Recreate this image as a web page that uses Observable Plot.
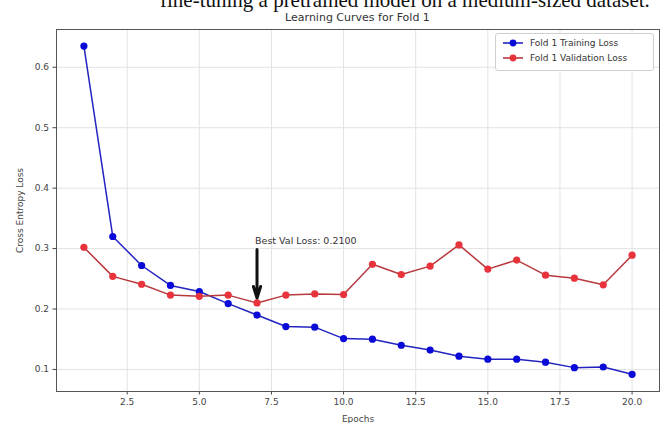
<!DOCTYPE html>
<html>
<head>
<meta charset="utf-8">
<script src="https://cdn.jsdelivr.net/npm/d3@7"></script>
<script src="https://cdn.jsdelivr.net/npm/@observablehq/plot@0.6"></script>
<style>
  html, body { margin: 0; padding: 0; background: #fff; }
  #wrap { position: relative; width: 667px; height: 423px; overflow: hidden; font-family: "DejaVu Sans", sans-serif; }
  #doc { position: absolute; left: 160px; top: -10px; font-family: "Liberation Serif", serif; font-size: 21px; line-height: 1; white-space: nowrap; color: #111; }
  #title { position: absolute; left: 0; width: 715px; top: 11px; text-align: center; font-size: 11px; color: #333; }
  #legend { position: absolute; left: 495px; top: 33px; width: 159px; height: 38px; border: 1px solid #d0d0d0; border-radius: 3px; background: #fff; font-size: 9px; color: #333; box-sizing: border-box; }
  .item { position: absolute; left: 6px; display: flex; align-items: center; }
  .item svg { margin-right: 6px; }
</style>
</head>
<body>
<div id="wrap">
  <div id="chart"></div>
  <div id="doc">fine-tuning a pretrained model on a medium-sized dataset.</div>
  <div id="title">Learning Curves for Fold 1</div>
  <div id="legend"></div>
</div>
<script>
const epochs = [1,2,3,4,5,6,7,8,9,10,11,12,13,14,15,16,17,18,19,20];
const trainLoss = [0.635,0.320,0.272,0.239,0.229,0.209,0.190,0.171,0.170,0.151,0.150,0.140,0.132,0.122,0.117,0.117,0.112,0.103,0.104,0.092];
const valLoss = [0.302,0.254,0.241,0.223,0.221,0.223,0.210,0.223,0.225,0.224,0.274,0.257,0.271,0.306,0.266,0.281,0.256,0.251,0.240,0.289];
const seriesNames = ["Fold 1 Training Loss", "Fold 1 Validation Loss"];
const xTicks = [2.5,5.0,7.5,10.0,12.5,15.0,17.5,20.0];
const yTicks = [0.1,0.2,0.3,0.4,0.5,0.6];
const bestEpoch = 7;
const bestVal = 0.2100;
const annotText = "Best Val Loss: 0.2100";
const annotY = 0.31;

const blueLine = "#2323c0", blueDot = "#0a0ad8";
const redLine = "#b8393e", redDot = "#e8333c";

const train = epochs.map((e,i) => ({epoch: e, loss: trainLoss[i]}));
const val = epochs.map((e,i) => ({epoch: e, loss: valLoss[i]}));

const chart = Plot.plot({
  width: 667,
  height: 423,
  marginLeft: 56,
  marginRight: 8,
  marginTop: 29,
  marginBottom: 32,
  style: {fontFamily: "DejaVu Sans, sans-serif", fontSize: "9px", color: "#444", background: "#fff"},
  x: {domain: [0.05, 20.95]},
  y: {domain: [0.0635, 0.6625]},
  marks: [
    Plot.gridX(xTicks, {stroke: "#e3e3e3", strokeOpacity: 1}),
    Plot.gridY(yTicks, {stroke: "#e3e3e3", strokeOpacity: 1}),
    Plot.axisX({ticks: xTicks, tickFormat: d3.format(".1f"), tickSize: 3.5, tickPadding: 4, label: "Epochs", labelAnchor: "center", labelArrow: "none", labelOffset: 30, stroke: "#444"}),
    Plot.axisY({ticks: yTicks, tickFormat: d3.format(".1f"), tickSize: 3.5, tickPadding: 4, label: "Cross Entropy Loss", labelAnchor: "center", labelArrow: "none", labelOffset: 40, stroke: "#444"}),
    Plot.line(train, {x: "epoch", y: "loss", stroke: blueLine, strokeWidth: 1.5}),
    Plot.dot(train, {x: "epoch", y: "loss", r: 3.6, fill: blueDot, stroke: "none"}),
    Plot.line(val, {x: "epoch", y: "loss", stroke: redLine, strokeWidth: 1.5}),
    Plot.dot(val, {x: "epoch", y: "loss", r: 3.6, fill: redDot, stroke: "none"}),
    Plot.arrow([{x: bestEpoch, y1: annotY, y2: bestVal}], {x: "x", y1: "y1", y2: "y2", stroke: "#111", strokeWidth: 3, headLength: 6, headAngle: 35, insetStart: 7, insetEnd: 5}),
    Plot.text([{x: bestEpoch, y: annotY, t: annotText}], {x: "x", y: "y", text: "t", textAnchor: "start", lineAnchor: "bottom", dx: -2, dy: 1, fill: "#333", fontSize: 9.5}),
    Plot.frame({stroke: "#555", strokeWidth: 1})
  ]
});
document.getElementById("chart").appendChild(chart);

const legend = document.getElementById("legend");
const entries = [[seriesNames[0], blueLine, blueDot], [seriesNames[1], redLine, redDot]];
entries.forEach(([name, lc, dc], i) => {
  const div = document.createElement("div");
  div.className = "item";
  div.style.top = (4 + i * 15) + "px";
  div.innerHTML = `<svg width="22" height="10"><line x1="1" y1="5" x2="21" y2="5" stroke="${lc}" stroke-width="1.6"/><circle cx="11" cy="5" r="3.4" fill="${dc}"/></svg><span>${name}</span>`;
  legend.appendChild(div);
});
</script>
</body>
</html>
